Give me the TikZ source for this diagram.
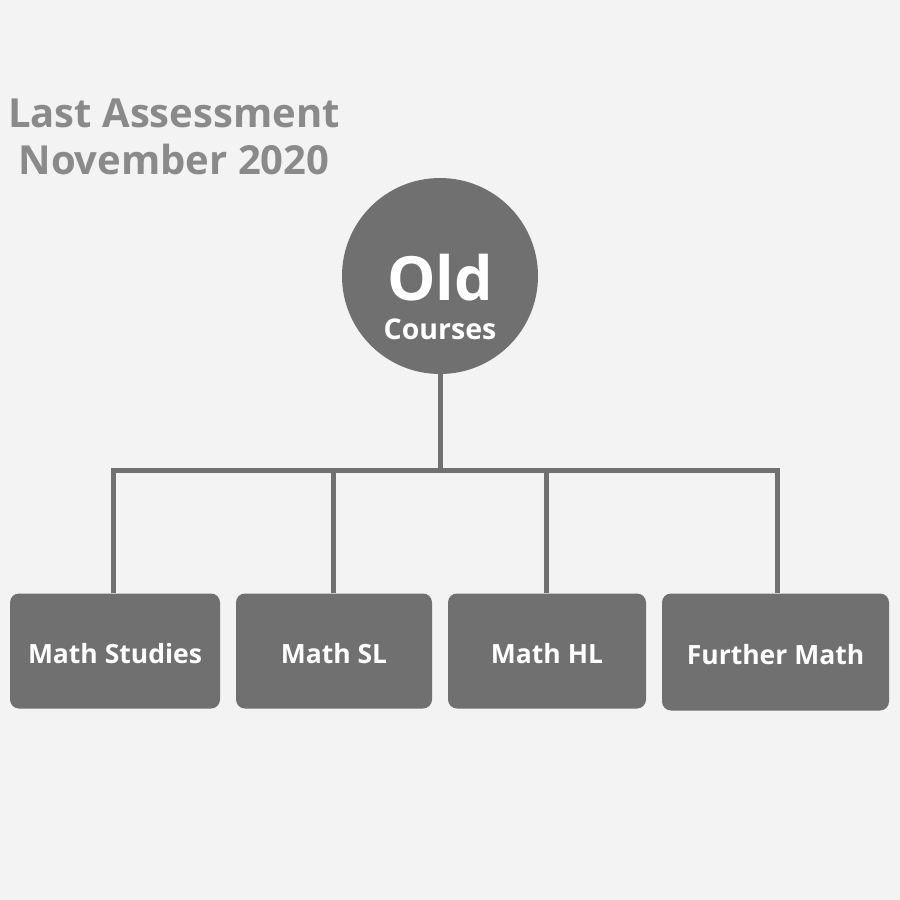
\documentclass[tikz,border=0pt]{standalone}
\usepackage{fontspec}
\setmainfont{Open Sans}
\definecolor{bg}{HTML}{F3F3F3}
\definecolor{dark}{HTML}{707070}
\definecolor{title}{HTML}{8A8A8A}
\begin{document}
\begin{tikzpicture}[x=1pt,y=-1pt,
  course/.style={fill=dark, rounded corners=9pt, inner sep=0pt, text=white,
    font=\fontsize{26.5}{30}\selectfont\bfseries},
  conn/.style={draw=dark, line width=5pt}]
\fill[bg] (0,0) rectangle (900,900);
\useasboundingbox (0,0) rectangle (900,900);
\node[anchor=base, text=title, font=\fontsize{40}{46}\selectfont\bfseries] (t1) at (174,127) {Last Assessment};
\node[anchor=base, text=title, font=\fontsize{40}{46}\selectfont\bfseries] (t2) at (174,174) {November 2020};
\node[circle, fill=dark, minimum size=196pt, inner sep=0pt] (old) at (440,276) {};
\node[anchor=base, text=white, font=\fontsize{61}{66}\selectfont\bfseries] (oldt) at (440,300) {Old};
\node[anchor=base, text=white, font=\fontsize{28.5}{32}\selectfont\bfseries] (ct) at (440,339) {Courses};
\node[course, minimum width=210pt, minimum height=115pt] (b1) at (115,651) {};
\node[course, minimum width=196pt, minimum height=115pt] (b2) at (334,651) {};
\node[course, minimum width=198pt, minimum height=115pt] (b3) at (547,651) {};
\node[course, minimum width=227pt, minimum height=117pt] (b4) at (775.5,652) {};
\node[anchor=base, text=white, font=\fontsize{26.5}{30}\selectfont\bfseries] (l1) at (115,663) {Math Studies};
\node[anchor=base, text=white, font=\fontsize{26.5}{30}\selectfont\bfseries] (l2) at (334,663) {Math SL};
\node[anchor=base, text=white, font=\fontsize{26.5}{30}\selectfont\bfseries] (l3) at (547,663) {Math HL};
\node[anchor=base, text=white, font=\fontsize{26.5}{30}\selectfont\bfseries] (l4) at (775.5,664) {Further Math};
\coordinate (j) at (440,470);
\draw[conn] (old.south) -- (j);
\draw[conn] (b1.north -| 113,0) |- (j) -| (b4.north -| 777,0);
\draw[conn] (b2.north -| 333,0) -- (333,470);
\draw[conn] (b3.north -| 546,0) -- (546,470);
\end{tikzpicture}
\end{document}
